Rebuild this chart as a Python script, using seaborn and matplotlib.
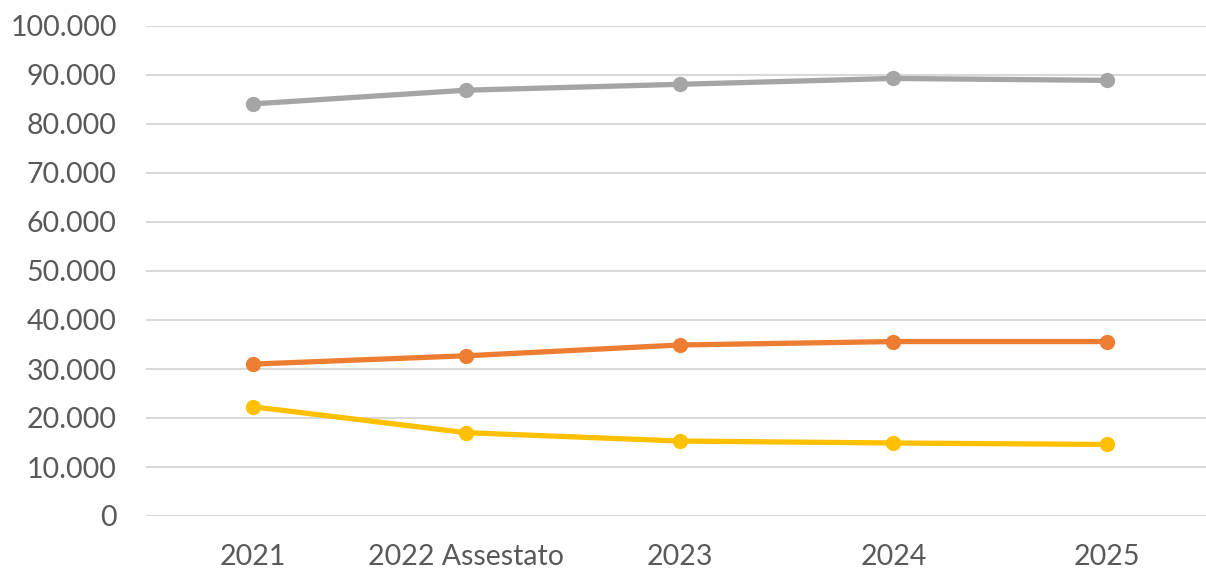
import pandas as pd
import matplotlib
matplotlib.use("Agg")
import matplotlib.pyplot as plt
from matplotlib.ticker import FuncFormatter, MultipleLocator
import seaborn as sns

# dati
anni = ["2021", "2022 Assestato", "2023", "2024", "2025"]
serie_grigia = [84100, 86900, 88100, 89300, 88900]
serie_arancio = [31000, 32700, 34900, 35600, 35600]
serie_gialla = [22300, 17000, 15300, 14900, 14600]
colori = ["#A5A5A5", "#ED7D31", "#FFC000"]
nomi = ["grigia", "arancio", "gialla"]

rows = []
for nome, valori in zip(nomi, [serie_grigia, serie_arancio, serie_gialla]):
    for anno, v in zip(anni, valori):
        rows.append({"anno": anno, "valore": v, "serie": nome})
df = pd.DataFrame(rows)

sns.set_theme(style="white")
plt.rcParams["font.family"] = ["Lato", "DejaVu Sans"]

fig = plt.figure(figsize=(12.06, 5.72), dpi=100)
ax = fig.add_axes([146 / 1206, 1 - 516 / 572, 1 - 146 / 1206, (516 - 26) / 572])

sns.lineplot(data=df, x="anno", y="valore", hue="serie", palette=dict(zip(nomi, colori)),
             marker="o", markersize=11, markeredgewidth=0, linewidth=3.8,
             legend=False, ax=ax, sort=False)

ax.set_ylim(0, 100000)
ax.set_xlim(-0.5, 4.464)
ax.yaxis.set_major_locator(MultipleLocator(10000))
ax.yaxis.set_major_formatter(FuncFormatter(lambda v, p: f"{int(v):,}".replace(",", ".")))
ax.grid(axis="y", color="#D9D9D9", linewidth=1.5)
ax.set_axisbelow(True)
for s in ax.spines.values():
    s.set_visible(False)
ax.set_xlabel("")
ax.set_ylabel("")
ax.tick_params(axis="both", length=0, labelsize=20.5, colors="#595959")
ax.tick_params(axis="y", pad=21)
ax.tick_params(axis="x", pad=20)

fig.savefig("out.png", dpi=100)
